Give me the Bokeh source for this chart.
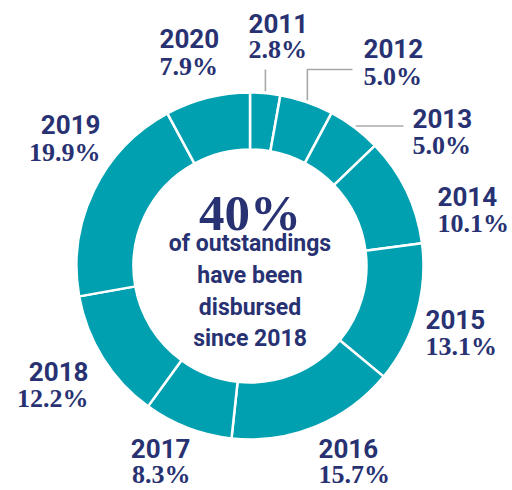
import numpy as np
from bokeh.plotting import figure
from bokeh.models import Range1d, ColumnDataSource
from bokeh.core.properties import value
from bokeh.embed import file_html
from bokeh.resources import INLINE

# ---------------- data ----------------
years = ["2011", "2012", "2013", "2014", "2015", "2016", "2017", "2018", "2019", "2020"]
shares = [2.8, 5.0, 5.0, 10.1, 13.1, 15.7, 8.3, 12.2, 19.9, 7.9]
center_big = "40%"
center_lines = ["of outstandings", "have been", "disbursed", "since 2018"]

# ---------------- layout (page pixel coordinates) ----------------
W, H = 512, 490
TEAL = "#00A0B0"
NAVY = "#283272"
GREY = "#A8A8A8"

cx, cy = 249.5, 265.5
r_out, r_in = 173.5, 116.5

# label anchor x, alignment, year baseline, percent baseline
lab_x = [248, 363, 412, 437, 425, 318, 190, 88, 100, 159]
lab_align = ["left", "left", "left", "left", "left", "left", "right", "right", "right", "left"]
lab_year_y = [32, 57, 127, 205, 328, 457, 457, 380, 133, 47]
lab_pct_y = [58, 85, 154, 232, 355, 483, 483, 407, 161, 75]

center_big_y = 221
center_line_y = [252, 284, 316, 347]
TEXT_SHIFT = 9  # renderer places alphabetic baselines a little low


def X(px):
    return np.asarray(px, dtype=float)


def Y(py):
    return H - np.asarray(py, dtype=float)


def YT(py):
    return H - (np.asarray(py, dtype=float) - TEXT_SHIFT)


p = figure(width=W, height=H, output_backend="svg", toolbar_location=None,
           x_range=Range1d(0, W), y_range=Range1d(0, H),
           x_axis_type=None, y_axis_type=None, min_border=0,
           outline_line_color=None, background_fill_color="white",
           border_fill_color="white")
p.grid.visible = False

# ---------------- donut ----------------
frac = np.array(shares) / np.sum(shares)
cum = np.concatenate([[0.0], np.cumsum(frac)])
start = np.pi / 2 - 2 * np.pi * cum[1:]
end = np.pi / 2 - 2 * np.pi * cum[:-1]
src = ColumnDataSource(dict(
    x=[float(X(cx))] * len(years), y=[float(Y(cy))] * len(years),
    start=start, end=end, year=years))
p.annular_wedge(x="x", y="y", inner_radius=r_in, outer_radius=r_out,
                start_angle="start", end_angle="end", direction="anticlock",
                fill_color=TEAL, line_color="white", line_width=2.5, source=src)

# ---------------- leader lines for small slices ----------------
mid = np.pi * (cum[:-1] + cum[1:])  # clockwise angle from top
gap = 2.0
ptx = cx + (r_out + gap) * np.sin(mid)
pty = cy - (r_out + gap) * np.cos(mid)
elbow_y = 69
xs = [
    X([ptx[0], ptx[0]]).tolist(),
    X([ptx[1], ptx[1], 352]).tolist(),
    X([ptx[2], 403]).tolist(),
]
ys = [
    Y([pty[0], elbow_y]).tolist(),
    Y([pty[1], elbow_y, elbow_y]).tolist(),
    Y([pty[2], pty[2]]).tolist(),
]
p.multi_line(xs=xs, ys=ys, line_color=GREY, line_width=1.6)

# ---------------- labels ----------------
pct_text = [f"{v:.1f}%" for v in shares]
for align in ("left", "right"):
    idx = [i for i, a in enumerate(lab_align) if a == align]
    s = ColumnDataSource(dict(
        x=X([lab_x[i] for i in idx]),
        yy=YT([lab_year_y[i] for i in idx]),
        yp=YT([lab_pct_y[i] for i in idx]),
        year=[years[i] for i in idx],
        pct=[pct_text[i] for i in idx]))
    p.text(x="x", y="yy", text="year", source=s, text_font=value("Roboto"),
           text_font_style="bold", text_font_size="26px", text_color=NAVY,
           text_align=align, text_baseline="alphabetic")
    p.text(x="x", y="yp", text="pct", source=s, text_font=value("Liberation Serif"),
           text_font_style="bold", text_font_size="26px", text_color=NAVY,
           text_align=align, text_baseline="alphabetic")

# ---------------- centre text ----------------
p.text(x=[float(X(cx))], y=[float(YT(center_big_y))], text=[center_big],
       text_font=value("Liberation Serif"), text_font_style="bold",
       text_font_size="51px", text_color=NAVY, text_align="center",
       text_baseline="alphabetic")
p.text(x=[float(X(cx))] * len(center_lines), y=YT(center_line_y).tolist(), text=center_lines,
       text_font=value("Roboto"), text_font_style="bold",
       text_font_size="23px", text_color=NAVY, text_align="center",
       text_baseline="alphabetic")

open("out.html", "w").write(file_html(p, INLINE))
